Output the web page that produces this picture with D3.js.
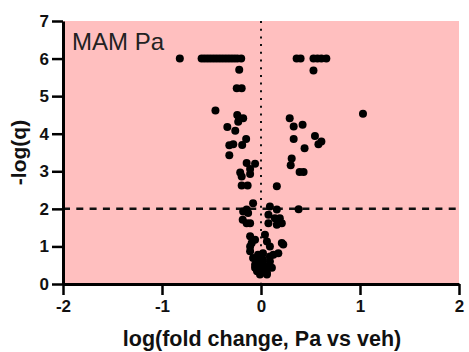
<!DOCTYPE html>
<html>
<head>
<meta charset="utf-8">
<script src="https://cdn.jsdelivr.net/npm/d3@7"></script>
<style>
  body { margin: 0; background: #fff; }
  text { font-family: "Liberation Sans", Arial, sans-serif; }
</style>
</head>
<body>
<div id="chart"></div>
<script>
// volcano plot values: log fold change and -log(q)
var foldChange = [
  -0.82, -0.60, -0.57, -0.54, -0.51, -0.48, -0.45, -0.42, -0.39, -0.36, -0.33, -0.30, -0.27, -0.24, -0.20,
  0.36, 0.40, 0.53, 0.57, 0.61, 0.66,
  -0.22, 0.53, -0.245, -0.195,
  1.03, -0.46,
  -0.24, -0.22, -0.18, -0.23,
  -0.34, -0.26, -0.15, -0.32, -0.28, -0.19, -0.32, -0.145, -0.06,
  -0.21, -0.11, -0.195, -0.11,
  -0.195, -0.135, 0.16,
  0.29, 0.33, 0.42, 0.545, 0.33, 0.58, 0.61, 0.44, 0.31, 0.30, 0.39, 0.43,
  0.38,
  -0.08, -0.18, -0.13, -0.185, -0.145, -0.11, -0.145,
  0.09, 0.16, 0.075, 0.14, 0.075, 0.16, 0.21, 0.19,
  -0.11, -0.094, -0.06, -0.11, 0.04, 0.06, 0.09, 0.21, 0.225,
  -0.11, -0.08, 0.02, 0.125, 0.175, -0.03,
  -0.06, 0.02, 0.09, -0.03, 0.02, 0.09, 0.11, -0.04, 0.02, -0.01, 0.06, -0.04, 0.075, -0.06, 0.06, -0.01
];
var negLogQ = [
  6, 6, 6, 6, 6, 6, 6, 6, 6, 6, 6, 6, 6, 6, 6,
  6, 6, 6, 6, 6, 6,
  5.70, 5.68, 5.21, 5.21,
  4.53, 4.62,
  4.50, 4.41, 4.41, 4.32,
  4.18, 4.08, 3.86, 3.69, 3.72, 3.70, 3.43, 3.22, 3.20,
  2.97, 3.06, 2.86, 2.93,
  2.62, 2.62, 2.60,
  4.41, 4.19, 4.24, 3.94, 3.86, 3.72, 3.79, 3.61, 3.34, 3.16, 2.98, 2.98,
  1.99,
  2.15, 1.93, 1.89, 1.71, 1.62, 1.62, 1.98,
  2.06, 1.98, 1.84, 1.75, 1.62, 1.58, 1.62, 1.75,
  1.27, 1.09, 1.18, 1.00, 1.31, 1.13, 1.00, 1.09, 1.05,
  0.87, 0.69, 0.82, 0.78, 0.82, 0.78,
  0.51, 0.51, 0.60, 0.60, 0.65, 0.73, 0.43, 0.34, 0.38, 0.25, 0.25, 0.47, 0.47, 0.43, 0.29, 0.34
];
var xTicks = [-2, -1, 0, 1, 2];
var yTicks = [0, 1, 2, 3, 4, 5, 6, 7];
var qThreshold = 2;

var width = 469, height = 352;
var margin = {top: 21, right: 10, bottom: 68, left: 63};
var plotW = width - margin.left - margin.right;
var plotH = height - margin.top - margin.bottom;

var svg = d3.select("#chart").append("svg")
  .attr("width", width)
  .attr("height", height);

var g = svg.append("g")
  .attr("transform", "translate(" + margin.left + "," + margin.top + ")");

var x = d3.scaleLinear().domain([-2, 2]).range([0, plotW]);
var y = d3.scaleLinear().domain([0, 7]).range([plotH, 0]);

// pink background of the plot area
g.append("rect")
  .attr("width", plotW)
  .attr("height", plotH)
  .style("fill", "#ffbfbf");

// reference lines
g.append("line")
  .attr("x1", x(0)).attr("x2", x(0))
  .attr("y1", 0).attr("y2", plotH)
  .style("stroke", "#111")
  .style("stroke-width", 2)
  .style("stroke-dasharray", "2,5.7");

g.append("line")
  .attr("x1", 0).attr("x2", plotW)
  .attr("y1", y(qThreshold)).attr("y2", y(qThreshold))
  .style("stroke", "#111")
  .style("stroke-width", 2.5)
  .style("stroke-dasharray", "7,6.3");

// points
g.append("g").selectAll("circle")
  .data(d3.range(foldChange.length))
  .join("circle")
  .attr("cx", function(i) { return x(foldChange[i]); })
  .attr("cy", function(i) { return y(negLogQ[i]); })
  .attr("r", 4)
  .style("fill", "#000");

// axes
var xAxis = g.append("g")
  .attr("transform", "translate(0," + plotH + ")")
  .call(d3.axisBottom(x).tickValues(xTicks).tickFormat(d3.format("d")).tickSize(11).tickSizeOuter(0).tickPadding(5));

var yAxis = g.append("g")
  .call(d3.axisLeft(y).tickValues(yTicks).tickFormat(d3.format("d")).tickSize(11).tickSizeOuter(0).tickPadding(3));

[xAxis, yAxis].forEach(function(ax) {
  ax.select(".domain").style("stroke", "#000").style("stroke-width", 3);
  ax.selectAll(".tick line").style("stroke", "#000").style("stroke-width", 2.5);
  ax.selectAll(".tick text")
    .style("font-family", "'Liberation Sans', Arial, sans-serif")
    .style("font-size", "17px")
    .style("font-weight", "bold")
    .style("fill", "#111");
});
// hyphen style minus like the original labels
xAxis.selectAll(".tick text").text(function(d) { return d < 0 ? "-" + Math.abs(d) : d; });

// label inside the plot
g.append("text")
  .attr("x", 9)
  .attr("y", 29)
  .style("font-size", "24px")
  .style("fill", "#222")
  .text("MAM Pa");

// axis titles
svg.append("text")
  .attr("x", margin.left + plotW / 2 + 1)
  .attr("y", 346)
  .attr("text-anchor", "middle")
  .style("font-size", "21.5px")
  .style("font-weight", "bold")
  .style("fill", "#111")
  .text("log(fold change, Pa vs veh)");

svg.append("text")
  .attr("transform", "translate(26," + (margin.top + plotH / 2) + ") rotate(-90)")
  .attr("text-anchor", "middle")
  .style("font-size", "21px")
  .style("font-weight", "bold")
  .style("fill", "#111")
  .text("-log(q)");
</script>
</body>
</html>
